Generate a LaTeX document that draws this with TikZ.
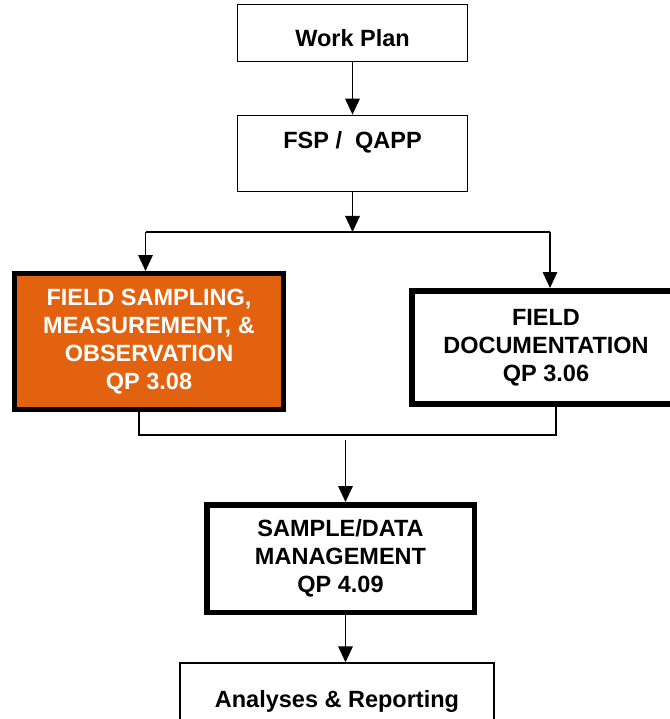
\documentclass[tikz,border=0pt]{standalone}
\usepackage{fontspec}
\setmainfont{Liberation Sans}
\usetikzlibrary{arrows.meta}
\definecolor{fieldorange}{RGB}{227,98,16}
\begin{document}
\begin{tikzpicture}[x=1pt,y=-1pt,
  box/.style={draw=black, rectangle, align=center, inner sep=0pt,
    font=\bfseries\fontsize{23.5}{28}\selectfont},
  thinbox/.style={box, line width=1.7pt},
  thickbox/.style={box, line width=5.5pt},
  conn/.style={line width=1.6pt},
  arr/.style={conn, -{Triangle[width=14.5pt,length=16pt]}}]
\useasboundingbox (0,0) rectangle (669,719);
\fill[white] (0,0) rectangle (669,719);

\node[thinbox, minimum width=230pt, minimum height=57pt, text height=28pt, text depth=0pt] (wp) at (352.5,33) {Work Plan};
\node[thinbox, minimum width=230pt, minimum height=76pt, text height=17pt, text depth=26pt] (fsp) at (352.5,153.5) {FSP /~ QAPP};
\node[thickbox, line width=5pt, fill=fieldorange, text=white, minimum width=269pt, minimum height=136pt] (fld) at (149,341.5)
  {FIELD SAMPLING,\\MEASUREMENT, \&\\OBSERVATION\\QP 3.08};
\node[thickbox, line width=6pt, minimum width=268pt, minimum height=113pt] (doc) at (546,347.5)
  {FIELD\\DOCUMENTATION\\QP 3.06};
\node[thickbox, minimum width=267.5pt, minimum height=107.5pt] (sdm) at (340.5,558.5)
  {SAMPLE/DATA\\MANAGEMENT\\QP 4.09};
\node[thinbox, line width=1.8pt, minimum width=314pt, minimum height=71pt, text height=17pt, text depth=0pt] (ana) at (337,698.7)
  {Analyses \& Reporting};

\coordinate (j) at (352.5,232);
\coordinate (jl) at (145.5,232);
\coordinate (jr) at (550,232);
\coordinate (m1) at (139,435);
\coordinate (m2) at (556,435);
\coordinate (m3) at (345.5,440);

\draw[arr] (wp) -- (fsp);
\draw[arr] (fsp.south) -- (j);
\draw[conn] (jl) -- (jr);
\draw[arr] (jl) -- (jl |- fld.north);
\draw[arr] (jr) -- (jr |- doc.north);
\draw[conn] (fld.south -| m1) -- (m1) -- (m2) -- (doc.south -| m2);
\draw[arr] (m3) -- (m3 |- sdm.north);
\draw[arr] (sdm.south -| m3) -- (m3 |- ana.north);
\end{tikzpicture}
\end{document}
